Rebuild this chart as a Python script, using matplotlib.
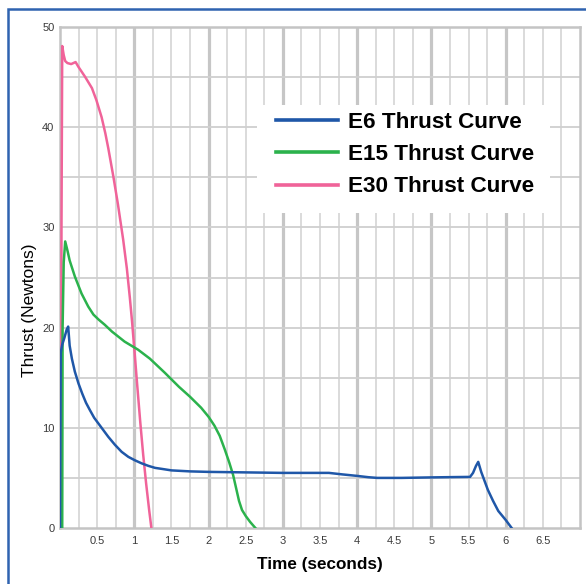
import matplotlib
matplotlib.use("Agg")
import matplotlib.pyplot as plt
from matplotlib.patches import Rectangle
import numpy as np

plt.rcParams['font.family'] = ['Liberation Sans', 'DejaVu Sans']

# thrust curves (time in s, thrust in N)
e6_time = [0.0, 0.005, 0.01, 0.03, 0.06, 0.09, 0.11, 0.13, 0.16, 0.2, 0.25,
           0.3, 0.35, 0.40, 0.46, 0.52, 0.58, 0.65, 0.74, 0.83, 0.92, 1.01,
           1.1, 1.19, 1.28, 1.37, 1.5, 1.75, 2.0, 2.5, 3.0, 3.4, 3.62, 3.8,
           4.0, 4.15, 4.27, 4.6, 5.0, 5.3, 5.52, 5.56, 5.6, 5.63, 5.67, 5.72,
           5.76, 5.83, 5.9, 6.0, 6.08]
e6_thrust = [0.0, 10.0, 17.5, 18.3, 19.0, 19.8, 20.1, 18.2, 16.9, 15.6, 14.4,
             13.4, 12.5, 11.8, 11.0, 10.4, 9.8, 9.1, 8.3, 7.6, 7.1, 6.75,
             6.45, 6.2, 6.0, 5.9, 5.75, 5.65, 5.6, 5.55, 5.5, 5.5, 5.5, 5.35,
             5.2, 5.07, 5.0, 5.0, 5.05, 5.08, 5.1, 5.5, 6.2, 6.6, 5.6, 4.6,
             3.8, 2.7, 1.7, 0.8, 0.0]

e15_time = [0.03, 0.035, 0.05, 0.07, 0.1, 0.13, 0.2, 0.29, 0.38, 0.45, 0.52,
            0.6, 0.7, 0.87, 1.05, 1.21, 1.41, 1.6, 1.75, 1.9, 2.0, 2.08, 2.15,
            2.22, 2.28, 2.33, 2.37, 2.41, 2.45, 2.5, 2.56, 2.63]
e15_thrust = [0.0, 20.0, 26.5, 28.6, 27.7, 26.7, 25.1, 23.4, 22.1, 21.3, 20.8,
              20.3, 19.6, 18.6, 17.8, 16.9, 15.5, 14.1, 13.1, 12.0, 11.1, 10.2,
              9.2, 7.8, 6.5, 5.3, 4.0, 2.7, 1.8, 1.2, 0.6, 0.0]

e30_time = [0.015, 0.02, 0.03, 0.05, 0.07, 0.1, 0.15, 0.18, 0.21, 0.25, 0.34,
            0.43, 0.49, 0.56, 0.61, 0.65, 0.72, 0.78, 0.85, 0.9, 0.94, 0.97,
            1.0, 1.04, 1.08, 1.12, 1.16, 1.2, 1.23]
e30_thrust = [0.0, 30.0, 48.1, 47.2, 46.6, 46.4, 46.3, 46.4, 46.5, 46.0, 45.0,
              43.9, 42.7, 41.0, 39.4, 37.9, 35.0, 32.3, 28.8, 25.9, 23.0, 20.6,
              17.9, 14.2, 10.6, 7.3, 4.4, 1.8, 0.0]

labels = ['E6 Thrust Curve', 'E15 Thrust Curve', 'E30 Thrust Curve']
colors = ['#1f57a8', '#2bb24c', '#f06399']

x_ticks = [0.5, 1, 1.5, 2, 2.5, 3, 3.5, 4, 4.5, 5, 5.5, 6, 6.5]
x_ticklabels = ['0.5', '1', '1.5', '2', '2.5', '3', '3.5', '4', '4.5', '5', '5.5', '6', '6.5']
y_ticks = [0, 10, 20, 30, 40, 50]

W, H = 586, 584
fig = plt.figure(figsize=(W/100, H/100), dpi=100)
ax = fig.add_axes([60/W, 56/H, 520/W, 501/H])

# outer blue frame (runs off the right and bottom of the picture)
fig.patches.append(Rectangle((8/W, -0.2), 1.5, (H-9)/H + 0.2,
                             transform=fig.transFigure, fill=False,
                             edgecolor='#2f63b0', linewidth=1.8, zorder=0))

# grid: thin every 0.25 s, thick at whole seconds, every 5 N
for xv in np.arange(0.25, 7, 0.25):
    thick = abs(xv - round(xv)) < 1e-6
    ax.axvline(xv, color='#c6c6c6' if thick else '#d4d4d4',
               lw=2.3 if thick else 1.2, zorder=0)
for yv in np.arange(5, 50, 5):
    ax.axhline(yv, color='#cfcfcf', lw=1.3, zorder=0)

# white box behind the legend hides the grid there
ax.add_patch(Rectangle(((257-60)/520, (528-213)/501), (550-257)/520, (213-105)/501,
                       transform=ax.transAxes, facecolor='white',
                       edgecolor='none', zorder=1))

ax.plot(e30_time, e30_thrust, color=colors[2], lw=1.8, zorder=3)
ax.plot(e15_time, e15_thrust, color=colors[1], lw=1.8, zorder=4)
ax.plot(e6_time, e6_thrust, color=colors[0], lw=1.8, zorder=5)

ax.set_xlim(0, 7)
ax.set_ylim(0, 50)
ax.set_xticks(x_ticks)
ax.set_xticklabels(x_ticklabels)
ax.set_yticks(y_ticks)
ax.tick_params(length=0, labelsize=8, colors='#3a3a3a')
ax.tick_params(axis='x', pad=6)
ax.tick_params(axis='y', pad=4)
for s in ax.spines.values():
    s.set_color('#c4c4c4')
    s.set_linewidth(1.8)

ax.set_xlabel('Time (seconds)', fontsize=12.3, fontweight='bold', labelpad=8)
ax.set_ylabel('Thrust (Newtons)', fontsize=12.5)
ax.yaxis.set_label_coords(-0.044, 0.435)

handles = [plt.Line2D([], [], color=c, lw=2.6) for c in colors]
leg = ax.legend(handles, labels, loc='upper left',
                bbox_to_anchor=((276-60)/520, (528-112)/501),
                prop={'weight': 'bold', 'size': 16.2}, frameon=False,
                handlelength=2.75, handletextpad=0.45, labelspacing=0.5,
                borderpad=0, borderaxespad=0)
leg.set_zorder(6)

fig.savefig('out.png', dpi=100)
